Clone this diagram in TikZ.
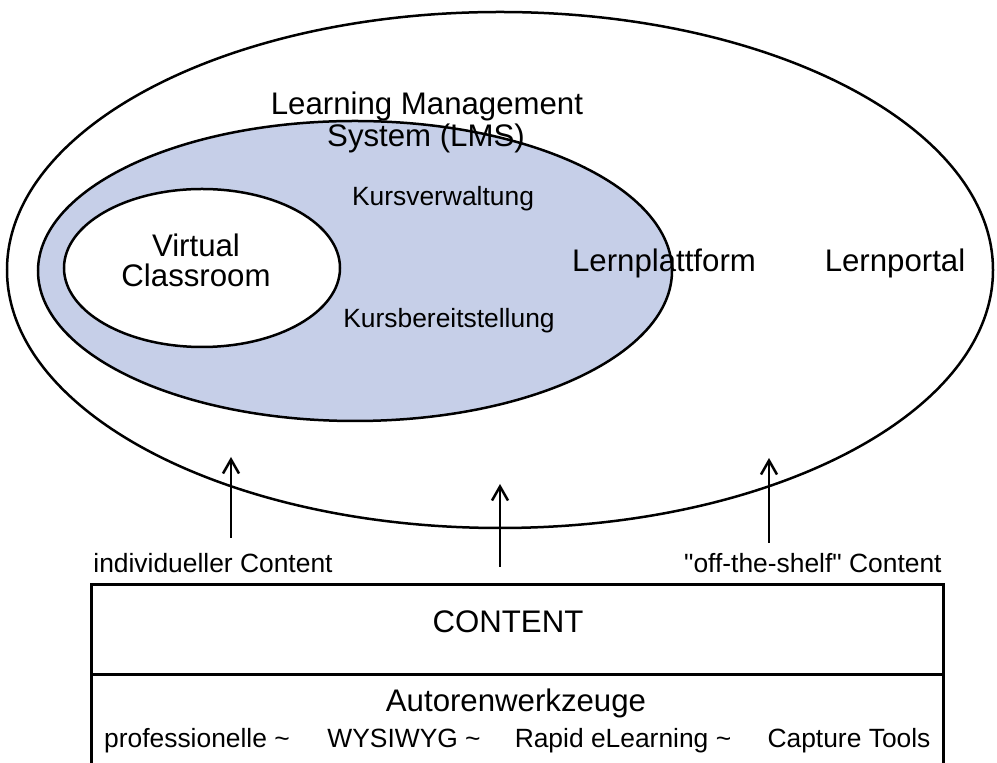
\documentclass[tikz,border=0pt]{standalone}
\usepackage{fontspec}
\setmainfont{Liberation Sans}
% same face without the TeX text mapping, so " stays a straight quote
\newfontfamily\plainsans{Liberation Sans}
\usetikzlibrary{shapes.geometric,arrows.meta}
\definecolor{lmsblue}{RGB}{198,207,232}
\begin{document}
\begin{tikzpicture}[x=0.5pt,y=-0.5pt,
  ring/.style={ellipse, draw=black, line width=1.25pt, inner sep=0pt},
  big/.style={font=\fontsize{15.6}{16}\selectfont},
  small/.style={font=\fontsize{13.2}{14}\selectfont},
  lbl/.style={inner sep=0pt, anchor=base},
  feed/.style={line width=1.25pt, -{Straight Barb[length=7pt,width=8pt]}},
  panel/.style={draw=black, line width=1.6pt, inner sep=0pt, anchor=north west,
    minimum width=426pt}]
\useasboundingbox (0,0) rectangle (997,763);

% nested areas: portal > platform (LMS) > virtual classroom
\node[ring, minimum width=493pt, minimum height=258pt] (portal) at (500,270) {};
\node[ring, fill=lmsblue, minimum width=317pt, minimum height=150pt] (lms) at (355,271) {};
\node[ring, fill=white, minimum width=138pt, minimum height=79pt] (vc) at (202,268) {};

% area labels
\node[lbl, big] (lmsA) at (427,115) {Learning Management};
\node[lbl, big] (lmsB) at (426,147) {System (LMS)};
\node[lbl, big] (vcA) at (196,257) {Virtual};
\node[lbl, big] (vcB) at (196,287) {Classroom};
\node[lbl, small] (kv) at (443,206) {Kursverwaltung};
\node[lbl, small] (kb) at (449,328) {Kursbereitstellung};
\node[lbl, big] (lp) at (664,272) {Lernplattform};
\node[lbl, big] (lportal) at (895,272) {Lernportal};

% content feeding into the portal
\coordinate (srcL) at (231,538);
\coordinate (dstL) at (231,457);
\coordinate (srcM) at (500,567);
\coordinate (dstM) at (500,484);
\coordinate (srcR) at (769,543);
\coordinate (dstR) at (769,458);
\draw[feed] (srcL) -- (dstL);
\draw[feed] (srcM) -- (dstM);
\draw[feed] (srcR) -- (dstR);

\node[lbl, small, anchor=base west] (indiv) at (93,573) {individueller Content};
\node[lbl, small, anchor=base east] (shelf) at (942,573)
  {{\plainsans "off-the-shelf"} Content};

% content box with authoring tools below
\node[panel, minimum height=45pt] (contentbox) at (90,583) {};
\node[panel, minimum height=60pt] (toolbox) at (90,673) {};
\node[lbl, big] (content) at (508,633) {CONTENT};
\node[lbl, big] (tools) at (516,712) {Autorenwerkzeuge};
\node[lbl, small] (t1) at (197,748) {professionelle \textasciitilde};
\node[lbl, small] (t2) at (404,748) {WYSIWYG \textasciitilde};
\node[lbl, small] (t3) at (623,748) {Rapid eLearning \textasciitilde};
\node[lbl, small] (t4) at (849,748) {Capture Tools};
\end{tikzpicture}
\end{document}
